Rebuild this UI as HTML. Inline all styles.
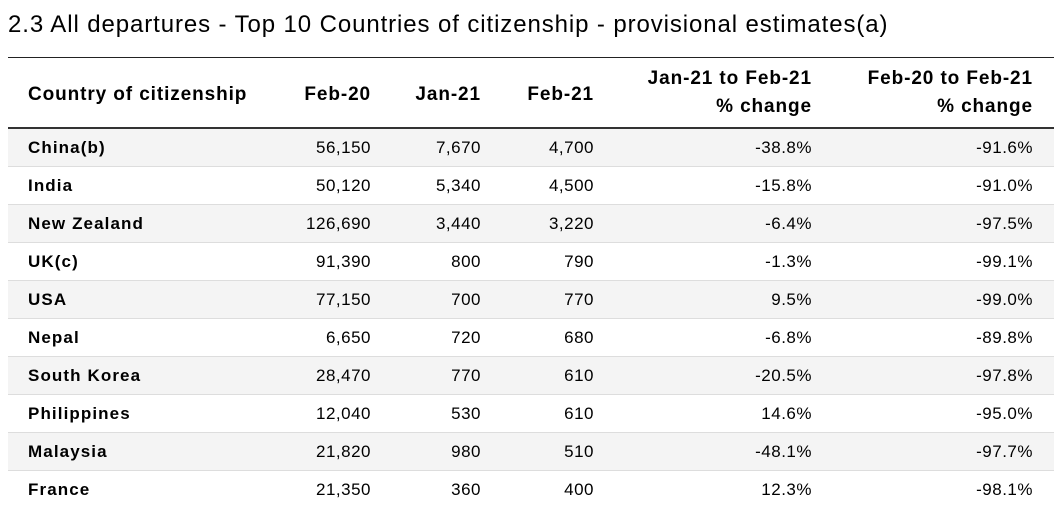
<!DOCTYPE html>
<html><head><style>
body{margin:0;width:1064px;height:509px;overflow:hidden;background:#fff;font-family:"Liberation Sans",sans-serif;color:#000;position:relative}
.t{position:absolute;left:8px;top:11px;font-size:24px;letter-spacing:0.9px;white-space:nowrap}
.top{position:absolute;left:8px;width:1046px;top:57px;height:1px;background:#222}
.hb{position:absolute;left:8px;width:1046px;top:127px;height:2px;background:#333}
.h{position:absolute;font-weight:bold;font-size:19px;letter-spacing:0.9px;line-height:28px;text-align:right;white-space:nowrap}
.row{position:absolute;left:8px;width:1046px;height:38px;border-bottom:1px solid #ddd;box-sizing:border-box;font-size:17px;line-height:38px;letter-spacing:0.5px}
.row.g{background:#f4f4f4}
.row span{position:absolute;text-align:right;white-space:nowrap}
.row .n{left:20px;font-weight:bold;text-align:left;letter-spacing:1.1px}
.c1{right:683px}.c2{right:573px}.c3{right:460px}.c4{right:242px}.c5{right:21px}
</style></head><body>
<div class="t">2.3 All departures - Top 10 Countries of citizenship - provisional estimates(a)</div>
<div class="top"></div>
<div class="h" style="left:28px;top:81px;text-align:left">Country of citizenship</div>
<div class="h" style="right:693px;top:81px">Feb-20</div>
<div class="h" style="right:583px;top:81px">Jan-21</div>
<div class="h" style="right:470px;top:81px">Feb-21</div>
<div class="h" style="right:252px;top:65px">Jan-21 to Feb-21<br>% change</div>
<div class="h" style="right:31px;top:65px">Feb-20 to Feb-21<br>% change</div>
<div class="hb"></div>
<div class="row g" style="top:129px"><span class="n">China(b)</span><span class="c1">56,150</span><span class="c2">7,670</span><span class="c3">4,700</span><span class="c4">-38.8%</span><span class="c5">-91.6%</span></div>
<div class="row" style="top:167px"><span class="n">India</span><span class="c1">50,120</span><span class="c2">5,340</span><span class="c3">4,500</span><span class="c4">-15.8%</span><span class="c5">-91.0%</span></div>
<div class="row g" style="top:205px"><span class="n">New Zealand</span><span class="c1">126,690</span><span class="c2">3,440</span><span class="c3">3,220</span><span class="c4">-6.4%</span><span class="c5">-97.5%</span></div>
<div class="row" style="top:243px"><span class="n">UK(c)</span><span class="c1">91,390</span><span class="c2">800</span><span class="c3">790</span><span class="c4">-1.3%</span><span class="c5">-99.1%</span></div>
<div class="row g" style="top:281px"><span class="n">USA</span><span class="c1">77,150</span><span class="c2">700</span><span class="c3">770</span><span class="c4">9.5%</span><span class="c5">-99.0%</span></div>
<div class="row" style="top:319px"><span class="n">Nepal</span><span class="c1">6,650</span><span class="c2">720</span><span class="c3">680</span><span class="c4">-6.8%</span><span class="c5">-89.8%</span></div>
<div class="row g" style="top:357px"><span class="n">South Korea</span><span class="c1">28,470</span><span class="c2">770</span><span class="c3">610</span><span class="c4">-20.5%</span><span class="c5">-97.8%</span></div>
<div class="row" style="top:395px"><span class="n">Philippines</span><span class="c1">12,040</span><span class="c2">530</span><span class="c3">610</span><span class="c4">14.6%</span><span class="c5">-95.0%</span></div>
<div class="row g" style="top:433px"><span class="n">Malaysia</span><span class="c1">21,820</span><span class="c2">980</span><span class="c3">510</span><span class="c4">-48.1%</span><span class="c5">-97.7%</span></div>
<div class="row" style="top:471px;border-bottom:none"><span class="n">France</span><span class="c1">21,350</span><span class="c2">360</span><span class="c3">400</span><span class="c4">12.3%</span><span class="c5">-98.1%</span></div>
</body></html>
